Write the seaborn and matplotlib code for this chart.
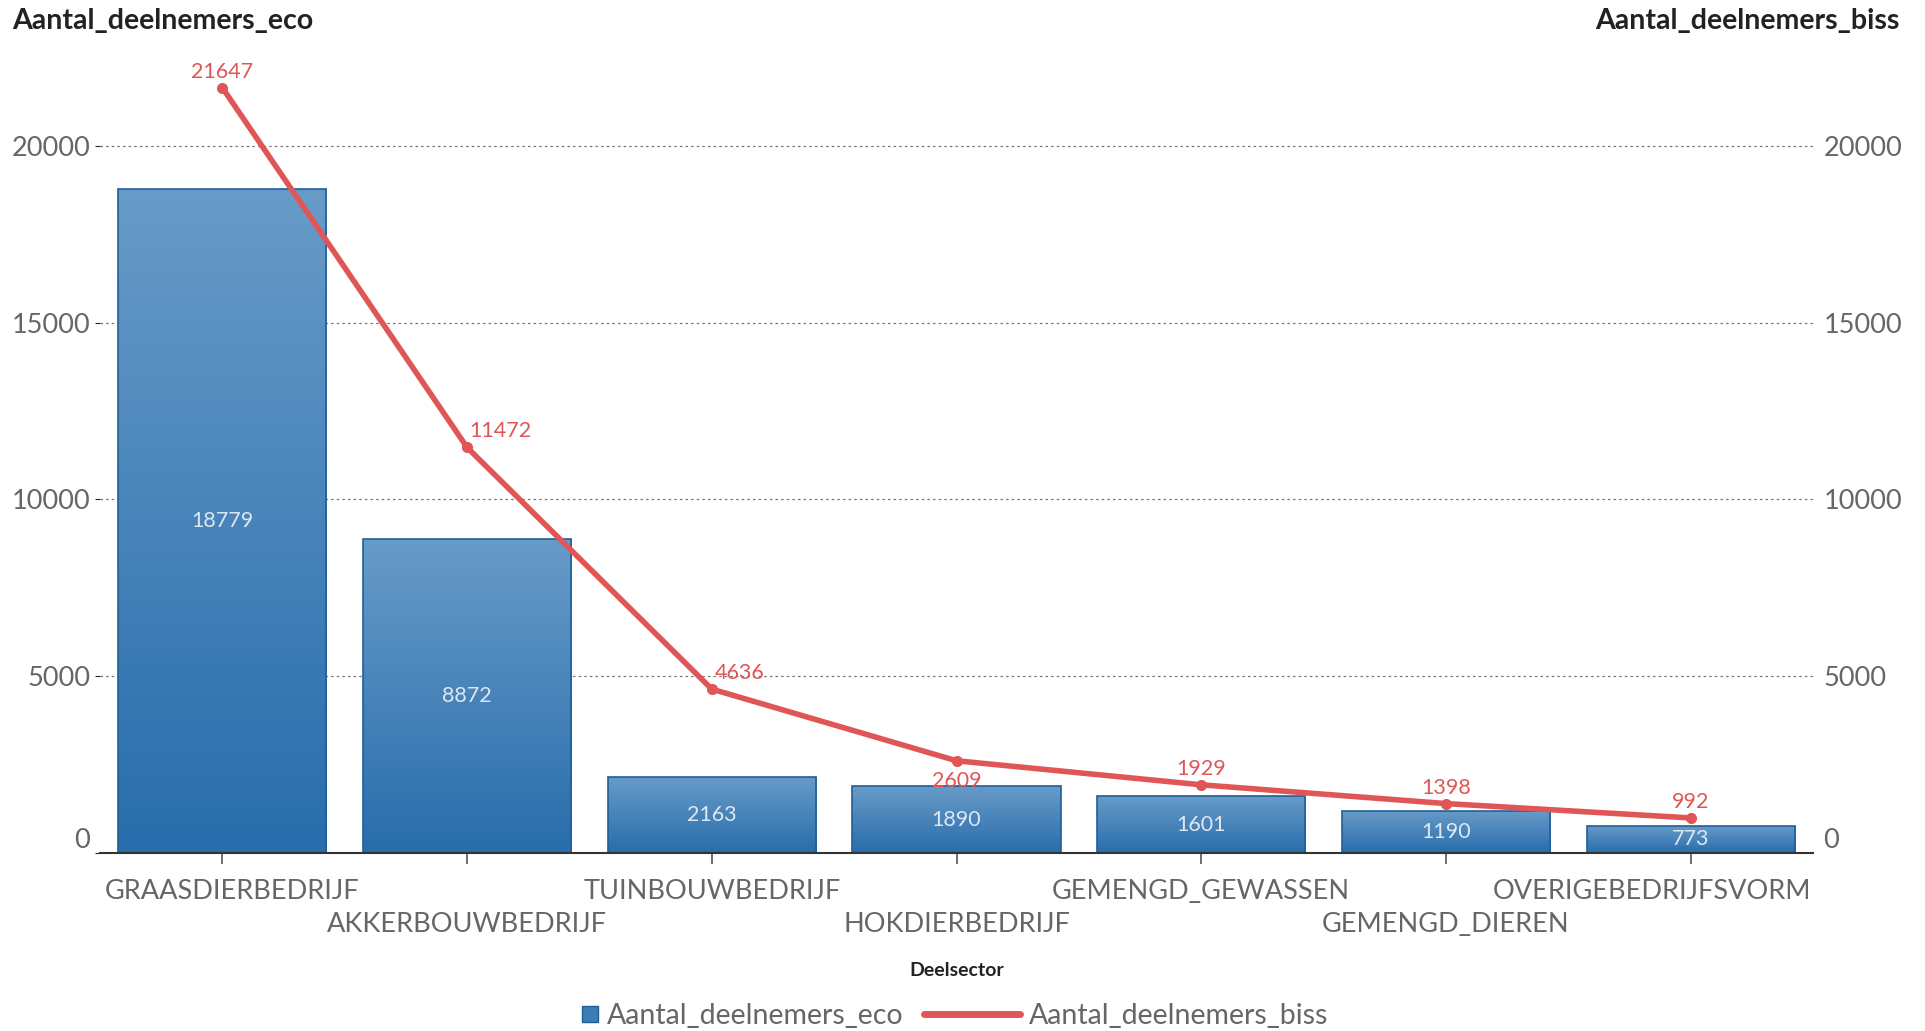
import numpy as np
import matplotlib
matplotlib.use("Agg")
import matplotlib.pyplot as plt
from matplotlib.colors import LinearSegmentedColormap
from matplotlib.lines import Line2D
from matplotlib.patches import Patch, Rectangle
from matplotlib.legend_handler import HandlerPatch
from matplotlib.transforms import ScaledTranslation
import seaborn as sns

# data
sectors = ["GRAASDIERBEDRIJF", "AKKERBOUWBEDRIJF", "TUINBOUWBEDRIJF", "HOKDIERBEDRIJF",
           "GEMENGD_GEWASSEN", "GEMENGD_DIEREN", "OVERIGEBEDRIJFSVORM"]
eco = [18779, 8872, 2163, 1890, 1601, 1190, 773]
biss = [21647, 11472, 4636, 2609, 1929, 1398, 992]
y_ticks = [0, 5000, 10000, 15000, 20000]

RED = "#e05656"
BAR_TOP = "#689bc8"
BAR_BOT = "#286dac"
BAR_EDGE = "#1f5f9a"

sns.set_style("white")
plt.rcParams['font.family'] = ['Lato', 'DejaVu Sans']

fig = plt.figure(figsize=(19.25, 10.31), dpi=100)
ax = fig.add_axes([100/1925, 178/1031, (1813-100)/1925, (853-54)/1031])

sns.barplot(x=sectors, y=eco, ax=ax, width=0.85, color=BAR_BOT,
            edgecolor=BAR_EDGE, linewidth=1.2, saturation=1, zorder=2)

# gradient fill for each bar (light top -> dark bottom)
cmap = LinearSegmentedColormap.from_list("bargrad", [BAR_BOT, BAR_TOP])
grad = np.linspace(0, 1, 256).reshape(-1, 1)
for p in ax.patches:
    x0, y0 = p.get_x(), p.get_y()
    w, h = p.get_width(), p.get_height()
    im = ax.imshow(grad, cmap=cmap, origin="lower", aspect="auto",
                   extent=[x0, x0 + w, y0, y0 + h], zorder=2.1)
    im.set_clip_path(p)
    p.set_facecolor("none")
    p.set_zorder(2.2)

sns.pointplot(x=sectors, y=biss, ax=ax, color=RED, markers="o", markersize=5,
              linewidth=4, zorder=5)

# labels inside bars
for i, v in enumerate(eco):
    ax.text(i, v / 2, str(v), ha="center", va="center", color="#dde7f1",
            fontsize=15.5, zorder=6)

# labels for the line (some nudged sideways like the original)
offsets = [(0, 16), (33, 16), (28, 16), (0, -20), (0, 16), (0, 16), (0, 16)]
for i, v in enumerate(biss):
    dx, dy = offsets[i]
    ax.annotate(str(v), (i, v), xytext=(dx, dy), textcoords="offset pixels",
                ha="center", va="center", color=RED, fontsize=15.5, zorder=6)

ax.set_xlim(-0.5, len(sectors) - 0.5)
ax.set_ylim(0, 22600)
ax.set_yticks(y_ticks)
ax.set_yticklabels([str(t) for t in y_ticks])
ax.yaxis.grid(True, linestyle=(0, (2, 2.5)), color="#777777", linewidth=0.9)
ax.set_axisbelow(True)

for s in ["top", "left", "right"]:
    ax.spines[s].set_visible(False)
ax.spines["bottom"].set_color("#333333")
ax.spines["bottom"].set_linewidth(1.5)
ax.spines["bottom"].set_zorder(7)

ax.set_xticks(range(len(sectors)))
ax.set_xticklabels(sectors, fontsize=19.5, color="#666666")
ax.tick_params(axis="x", bottom=True, length=8, width=1.2, color="#555555", pad=10.5)
ax.tick_params(axis="y", left=False, labelsize=19.5, labelcolor="#666666", pad=3.5)
ax.set_xlabel("Deelsector", fontsize=14, fontweight="bold", color="#222222", labelpad=18)
ax.set_ylabel("")
ax.yaxis.get_majorticklabels()[0].set_va("bottom")

# staggered x labels; outer ones kept inside the plot width
xlabs = ax.get_xticklabels()
for idx, lab in enumerate(xlabs):
    dx = 0
    dy = -33 if idx % 2 else 0
    if idx == 0:
        dx = 10
    elif idx == len(xlabs) - 1:
        dx = -39
    lab.set_transform(lab.get_transform() + ScaledTranslation(dx / 100, dy / 100, fig.dpi_scale_trans))

# right axis with the same scale
ax2 = ax.twinx()
ax2.set_ylim(ax.get_ylim())
ax2.set_yticks(y_ticks)
ax2.set_yticklabels([str(t) for t in y_ticks])
ax2.tick_params(axis="y", right=False, labelsize=19.5, labelcolor="#666666", pad=4)
ax2.yaxis.get_majorticklabels()[0].set_va("bottom")
for s in ax2.spines.values():
    s.set_visible(False)

fig.text(12/1925, 1 - 21/1031, "Aantal_deelnemers_eco", ha="left", va="center",
         fontsize=20.5, fontweight="bold", color="#222222")
fig.text(1900/1925, 1 - 21/1031, "Aantal_deelnemers_biss", ha="right", va="center",
         fontsize=20.5, fontweight="bold", color="#222222")


# small square for the bar entry, drawn at the right end of the handle box
def small_square(legend, orig_handle, xdescent, ydescent, width, height, fontsize):
    s = 12
    return Rectangle((-xdescent + width - s, -ydescent + (height - s) / 2), s, s)


handles = [Patch(facecolor="#3d7db6", edgecolor=BAR_EDGE),
           Line2D([0], [0], color=RED, linewidth=5, marker="o", markersize=3.5)]
fig.legend(handles, ["Aantal_deelnemers_eco", "Aantal_deelnemers_biss"],
           loc="center", bbox_to_anchor=(915/1925, 1 - 1016/1031), ncol=2,
           frameon=False, fontsize=20.5, labelcolor="#666666",
           handlelength=3.4, columnspacing=0.7, handletextpad=0.3,
           handler_map={Patch: HandlerPatch(patch_func=small_square)})

fig.savefig("out.png", dpi=100)
